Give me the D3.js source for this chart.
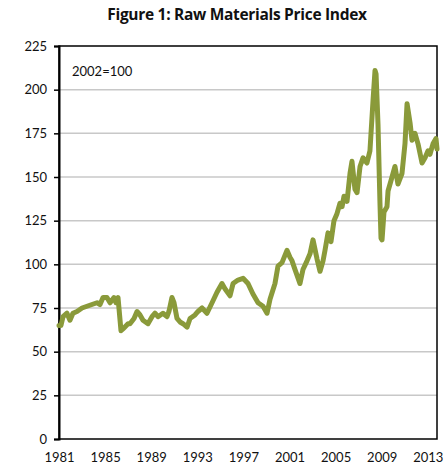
<!DOCTYPE html>
<html><head><meta charset="utf-8">
<script src="https://cdn.jsdelivr.net/npm/d3@7"></script>
<style>body{margin:0;background:#fff}svg{display:block}</style>
</head><body>
<svg id="c" width="444" height="468"></svg>
<script>
// pixel-read positions converted to decimal years (1981..2013.8)
const xs = [59,61,63,67,70,73,77,82,87,92,97,100,103,107,110,114,116,118,121,123,128,130,134,137,140,143,148,152,155,158,163,167,169,172,174,177,180,183,187,190,195,198,202,207,212,217,222,225,230,233,238,243,248,253,258,263,267,270,275,278,282,287,290,292,295,300,303,307,310,313,317,320,323,325,328,331,334,337,340,342,344,347,350,352,355,357,360,363,367,370,373,375,376,378,380,381,382,384,387,388,391,395,398,402,405,407,410,412,415,418,422,425,428,430,433,436,437];
const years = xs.map(x => +(1981 + (x - 59) * 4 / 46.1).toFixed(2));
const index = [65,65,70,72,68,72,73,75,76,77,78,77,81,81,78,81,78,81,62,63,66,66,69,73,71,68,66,70,72,70,72,70,73,81,78,69,67,66,64,69,71,73,75,72,78,84,89,86,82,89,91,92,89,83,78,76,72,80,89,99,101,108,104,102,97,89,97,102,106,114,103,96,102,108,118,113,125,129,135,133,139,136,152,159,143,141,156,161,158,165,194,211,209,180,135,115,114,130,133,142,148,156,146,152,169,192,181,171,175,169,158,161,165,163,169,172,166];
const yTicks = [0,25,50,75,100,125,150,175,200,225];
const xTicks = [1981,1985,1989,1993,1997,2001,2005,2009,2013];
const title = "Figure 1: Raw Materials Price Index";
const note = "2002=100";

const svg = d3.select("#c");
const L = 59, R = 437, T = 46, B = 439;
const x = d3.scaleLinear().domain([1981, 1981 + (R - L) * 4 / 46.1]).range([L, R]);
const y = d3.scaleLinear().domain([0, 225]).range([B, T]);
const font = "Lato, 'Open Sans', sans-serif";

svg.append("text").attr("x", 237).attr("y", 20).attr("text-anchor", "middle")
  .attr("font-family", "'Open Sans', sans-serif").attr("font-weight", "bold")
  .attr("font-size", 15.5).attr("fill", "#111").attr("letter-spacing", "-0.3").text(title);

// gridlines
svg.append("g").selectAll("line").data(yTicks.filter(d => d > 0 && d < 225)).join("line")
  .attr("x1", L).attr("x2", R).attr("y1", d => y(d)).attr("y2", d => y(d))
  .attr("stroke", "#c8c8c8").attr("stroke-width", 1.5);

// frame
svg.append("rect").attr("x", L).attr("y", T).attr("width", R - L).attr("height", B - T)
  .attr("fill", "none").attr("stroke", "#000").attr("stroke-width", 1.5);

// y axis
const ya = svg.append("g").attr("transform", `translate(${L},0)`)
  .call(d3.axisLeft(y).tickValues(yTicks).tickSize(5).tickPadding(7));
ya.select(".domain").attr("stroke", "#000").attr("stroke-width", 2);
ya.selectAll(".tick line").attr("stroke", "#000").attr("stroke-width", 1.5);
ya.selectAll("text").attr("font-family", font).attr("font-size", 13).attr("fill", "#111");

// x labels
const xa = svg.append("g").attr("transform", `translate(0,${B})`)
  .call(d3.axisBottom(x).tickValues(xTicks).tickFormat(d3.format("d")).tickSize(0).tickPadding(14));
xa.select(".domain").remove();
xa.selectAll("text").attr("font-family", font).attr("font-size", 13).attr("fill", "#111");

svg.append("text").attr("x", 72).attr("y", 76).attr("font-family", font)
  .attr("font-size", 13).attr("fill", "#111").text(note);

const line = d3.line().x((d, i) => x(years[i])).y(d => y(d)).curve(d3.curveLinear);
svg.append("path").datum(index).attr("d", line).attr("fill", "none")
  .attr("stroke", "#8a9a3a").attr("stroke-width", 5).attr("stroke-linejoin", "round").attr("stroke-linecap", "round");
</script>
</body></html>
